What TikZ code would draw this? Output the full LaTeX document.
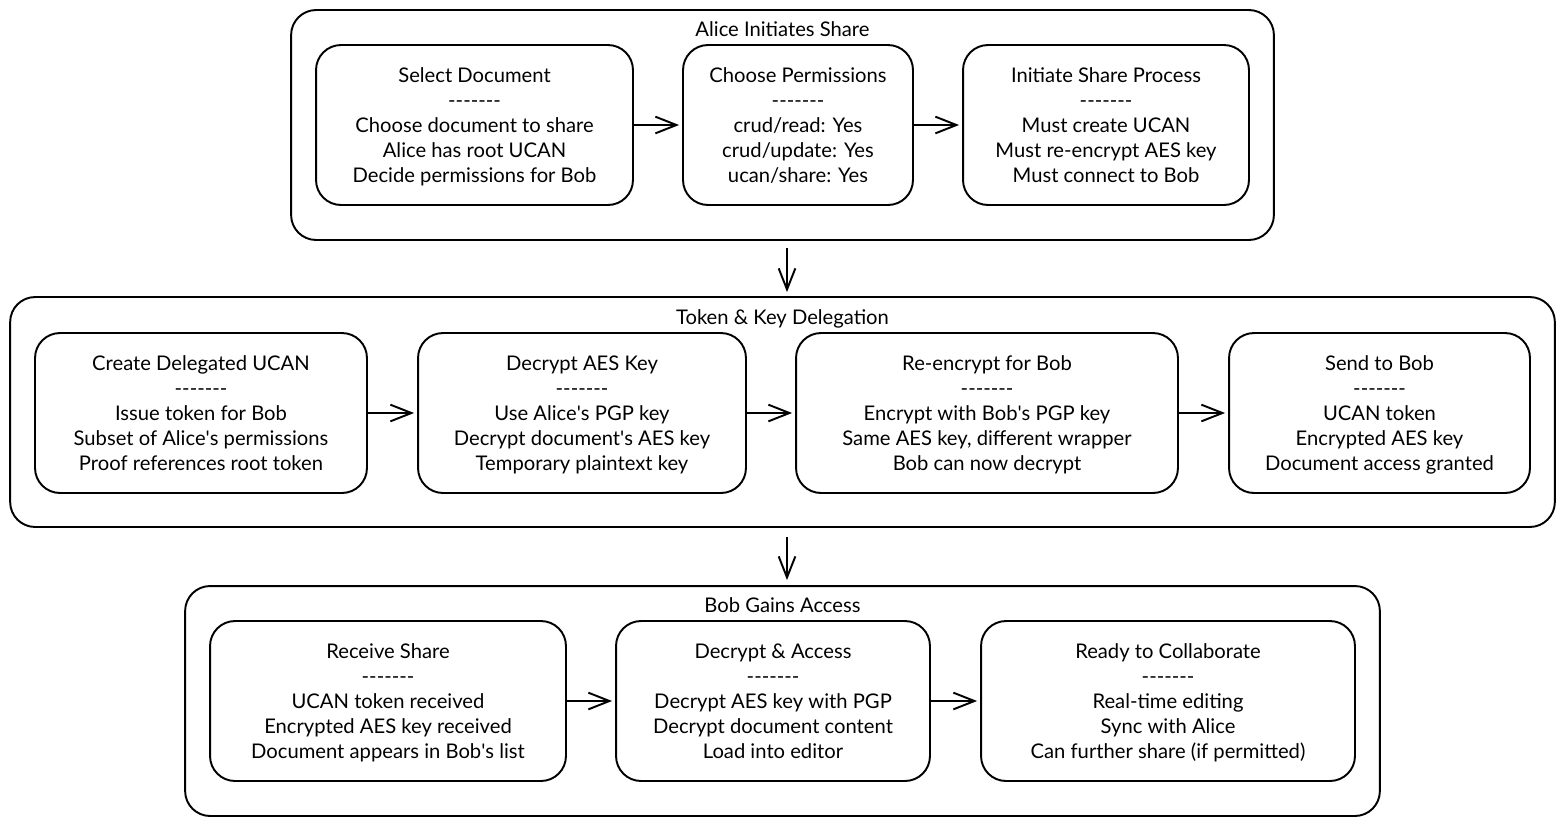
\documentclass[tikz,border=0pt]{standalone}
\usepackage{fontspec}
\setmainfont{Lato}
\usepackage{tikz}
\usetikzlibrary{arrows.meta}

\newcommand{\sepline}{-{}-{}-{}-{}-{}-{}-}
\newcommand{\ap}{\textquotesingle}

\begin{document}
\begin{tikzpicture}[x=0.02cm, y=-0.02cm,
    every node/.style={font=\fontsize{11.5}{14.2}\selectfont, execute at begin node=\strut, execute at end node=\strut, text depth=0pt},
    stepbox/.style={draw, line width=1.1pt, rounded corners=0.5cm, align=center, minimum height=3.2cm, inner sep=0pt},
    groupbox/.style={draw, line width=1.1pt, rounded corners=0.5cm, minimum height=4.6cm, inner sep=0pt},
    flow/.style={-{Straight Barb[length=12pt, width=9.5pt, line width=1.1pt]}, line width=1.1pt}]
    \useasboundingbox (0,0) rectangle (1565,826);
    % groups
    \node[groupbox, minimum width=19.66cm] (G1) at (782.5,125) {};
    \node[groupbox, minimum width=30.9cm] (G2) at (782.5,412) {};
    \node[groupbox, minimum width=23.9cm] (G3) at (782.5,701) {};
    \node (T1) at (782.5,28) {Alice Initiates Share};
    \node (T2) at (782.5,316) {Token \& Key Delegation};
    \node (T3) at (782.5,604) {Bob Gains Access};
    % Alice initiates share
    \node[stepbox, minimum width=6.34cm] (sel) at (474.5,125)
        {Select Document\\\sepline\\Choose document to share\\Alice has root UCAN\\Decide permissions for Bob};
    \node[stepbox, minimum width=4.6cm] (perm) at (798,125)
        {Choose Permissions\\\sepline\\crud/read: Yes\\crud/update: Yes\\ucan/share: Yes};
    \node[stepbox, minimum width=5.72cm] (init) at (1106,125)
        {Initiate Share Process\\\sepline\\Must create UCAN\\Must re-encrypt AES key\\Must connect to Bob};
    % token & key delegation
    \node[stepbox, minimum width=6.64cm] (cdu) at (201,413)
        {Create Delegated UCAN\\\sepline\\Issue token for Bob\\Subset of Alice\ap s permissions\\Proof references root token};
    \node[stepbox, minimum width=6.56cm] (dak) at (582,413)
        {Decrypt AES Key\\\sepline\\Use Alice\ap s PGP key\\Decrypt document\ap s AES key\\Temporary plaintext key};
    \node[stepbox, minimum width=7.64cm] (reb) at (987,413)
        {Re-encrypt for Bob\\\sepline\\Encrypt with Bob\ap s PGP key\\Same AES key, different wrapper\\Bob can now decrypt};
    \node[stepbox, minimum width=6.02cm] (stb) at (1379.5,413)
        {Send to Bob\\\sepline\\UCAN token\\Encrypted AES key\\Document access granted};
    % bob gains access
    \node[stepbox, minimum width=7.12cm] (rsh) at (388,701)
        {Receive Share\\\sepline\\UCAN token received\\Encrypted AES key received\\Document appears in Bob\ap s list};
    \node[stepbox, minimum width=6.28cm] (dac) at (773,701)
        {Decrypt \& Access\\\sepline\\Decrypt AES key with PGP\\Decrypt document content\\Load into editor};
    \node[stepbox, minimum width=7.48cm] (rtc) at (1168,701)
        {Ready to Collaborate\\\sepline\\Real-time editing\\Sync with Alice\\Can further share (if permitted)};
    % connectors
    \foreach \a/\b in {sel/perm, perm/init, cdu/dak, dak/reb, reb/stb, rsh/dac, dac/rtc}
        \draw[flow, shorten >=0.06cm] (\a) -- (\b);
    \draw[flow, shorten <=0.14cm, shorten >=0.08cm] ([xshift=0.09cm]G1.south) -- ([xshift=0.09cm]G2.north);
    \draw[flow, shorten <=0.18cm, shorten >=0.1cm] ([xshift=0.09cm]G2.south) -- ([xshift=0.09cm]G3.north);
\end{tikzpicture}
\end{document}
